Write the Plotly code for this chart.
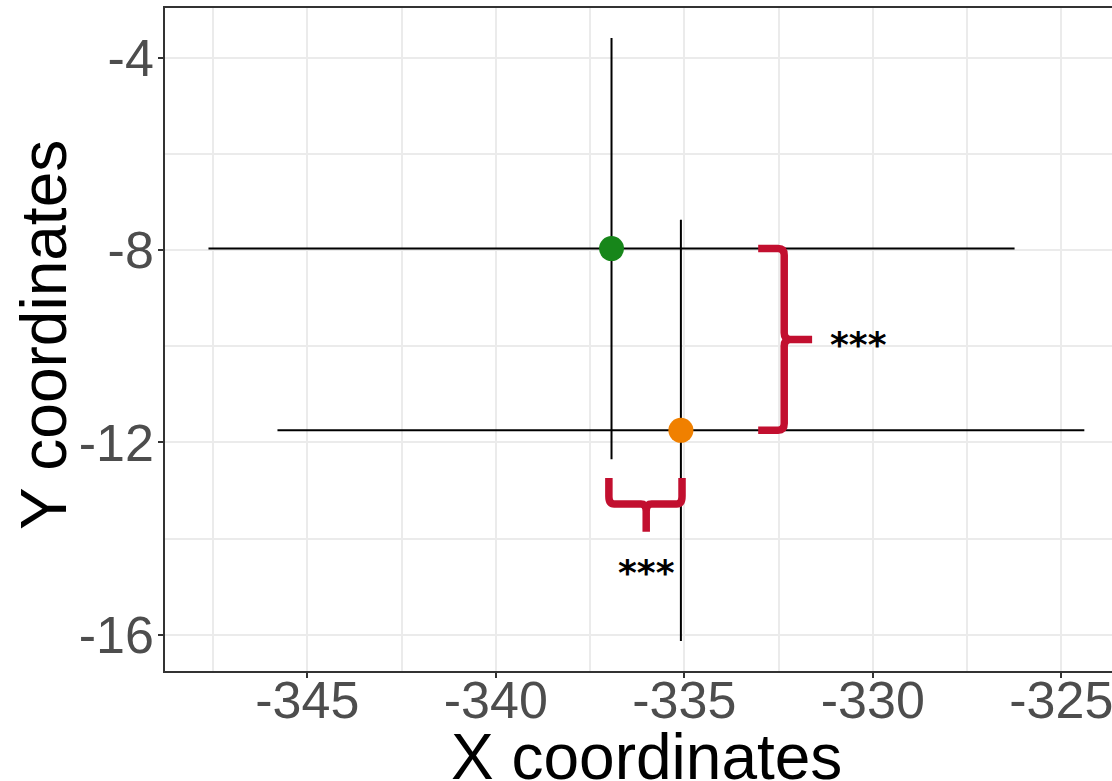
import plotly.graph_objects as go

# ---- data ----
groups = ["green", "orange"]
x_mean = [-336.93, -335.09]
y_mean = [-7.97, -11.75]
x_err = [10.69, 10.70]
y_err = [4.38, 4.38]
colors = ["#17861A", "#F08000"]
sig_labels = ["***", "***"]
x_ticks = [-345, -340, -335, -330, -325]
y_ticks = [-4, -8, -12, -16]

# ---- styling / layout constants ----
RED = "#C20F2F"
FONT = "Liberation Sans, Arial, sans-serif"
X_RANGE = [-348.773, -323.656]
Y_RANGE = [-16.756, -2.966]

fig = go.Figure()
for i in range(len(groups)):
    fig.add_trace(go.Scatter(
        x=[x_mean[i]], y=[y_mean[i]], mode="markers",
        marker=dict(size=25, color=colors[i], line=dict(width=0)),
        error_x=dict(type="constant", value=x_err[i], width=0, thickness=2, color="black"),
        error_y=dict(type="constant", value=y_err[i], width=0, thickness=2, color="black"),
        showlegend=False, name=groups[i],
    ))


def P(x, y):
    return f"{x:.4f},{y:.4f}"


# vertical curly brace (right side), spanning the two y means
bx = -332.35
arm, spike = 0.69, 0.74
rx, ry = 0.16, 0.14
yt, yb = y_mean[0], y_mean[1]
ym = (yt + yb) / 2
vpath = (
    f"M {P(bx - arm, yt)} L {P(bx - rx, yt)} Q {P(bx, yt)} {P(bx, yt - ry)} "
    f"L {P(bx, ym + ry)} Q {P(bx, ym)} {P(bx + rx, ym)} L {P(bx + spike, ym)} "
    f"M {P(bx + rx, ym)} Q {P(bx, ym)} {P(bx, ym - ry)} "
    f"L {P(bx, yb + ry)} Q {P(bx, yb)} {P(bx - rx, yb)} L {P(bx - arm, yb)}"
)
fig.add_shape(type="path", path=vpath, xref="x", yref="y",
              line=dict(color=RED, width=7.5))

# horizontal curly brace (bottom), spanning the two x means
ytop, yline, ybot = -12.74, -13.28, -13.86
xl, xr = x_mean[0] - 0.07, x_mean[1] + 0.03
xm = (x_mean[0] + x_mean[1]) / 2
hx, hy = 0.14, 0.16
hpath = (
    f"M {P(xl, ytop)} L {P(xl, yline + hy)} Q {P(xl, yline)} {P(xl + hx, yline)} "
    f"L {P(xm - hx, yline)} Q {P(xm, yline)} {P(xm, yline - hy)} L {P(xm, ybot)} "
    f"M {P(xm, yline - hy)} Q {P(xm, yline)} {P(xm + hx, yline)} "
    f"L {P(xr - hx, yline)} Q {P(xr, yline)} {P(xr, yline + hy)} L {P(xr, ytop)}"
)
fig.add_shape(type="path", path=hpath, xref="x", yref="y",
              line=dict(color=RED, width=7.5))

fig.add_annotation(x=-330.39, y=ym, text="<b>" + sig_labels[0] + "</b>", showarrow=False,
                   font=dict(family="DejaVu Sans", size=36, color="black"),
                   xanchor="center", yanchor="middle", yshift=-5)
fig.add_annotation(x=xm, y=-14.61, text="<b>" + sig_labels[1] + "</b>", showarrow=False,
                   font=dict(family="DejaVu Sans", size=36, color="black"),
                   xanchor="center", yanchor="middle", yshift=-5)

# axis titles as paper-positioned annotations
fig.add_annotation(x=0.508, y=-0.1297, xref="paper", yref="paper",
                   text="X coordinates", showarrow=False,
                   font=dict(family=FONT, size=64, color="black"),
                   xanchor="center", yanchor="middle")
fig.add_annotation(x=-0.1278, y=0.5068, xref="paper", yref="paper",
                   text="Y coordinates", showarrow=False, textangle=-90,
                   font=dict(family=FONT, size=64, color="black"),
                   xanchor="center", yanchor="middle")

axis_common = dict(
    showgrid=True, gridcolor="#EBEBEB", gridwidth=2,
    zeroline=False, ticks="outside", ticklen=5, tickwidth=1.5, tickcolor="#333333",
    tickfont=dict(family=FONT, size=52, color="#4D4D4D"),
    showline=True, linecolor="#333333", linewidth=1.5,
    ticklabeloverflow="allow",
)

fig.update_xaxes(
    range=X_RANGE, tickvals=x_ticks, ticktext=[str(v) for v in x_ticks],
    minor=dict(tickvals=[v + 2.5 for v in [-350] + x_ticks], showgrid=True,
               gridcolor="#EBEBEB", gridwidth=1.5, ticks=""),
    mirror=True, ticklabelstandoff=-22,
    **axis_common,
)
fig.update_yaxes(
    range=Y_RANGE, tickvals=y_ticks, ticktext=[str(v) for v in y_ticks],
    minor=dict(tickvals=[v + 2 for v in [-18] + y_ticks], showgrid=True,
               gridcolor="#EBEBEB", gridwidth=1.5, ticks=""),
    ticklabelstandoff=-6,
    **axis_common,
)

fig.update_layout(
    width=1112, height=781,
    margin=dict(l=165, r=0, t=8, b=110, autoexpand=False),
    plot_bgcolor="white", paper_bgcolor="white",
    showlegend=False,
)

# remove the default page margin so the 1112x781 figure fills the window exactly
fig.write_html(
    "out.html",
    config={"displayModeBar": False},
    post_script="document.body.style.margin='0px';document.body.style.overflow='hidden';",
)
